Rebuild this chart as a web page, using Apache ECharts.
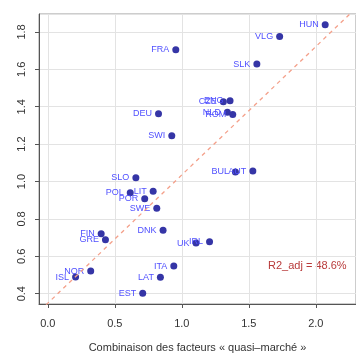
<!DOCTYPE html>
<html><head><meta charset="utf-8">
<script src="https://cdn.jsdelivr.net/npm/echarts@6/dist/echarts.min.js"></script>
<style>html,body{margin:0;padding:0;background:#fff}#c{width:356px;height:364px}</style>
</head><body><div id="c"></div>
<script>
const countries = ['HUN','VLG','FRA','SLK','CZE','ENG','NLD','ROM','DEU','SWI','BUL','AUT','SLO','POL','LIT','POR','SWE','DNK','FIN','GRE','UK','IRL','NOR','ISL','ITA','LAT','EST'];
const xValues = [2.07,1.73,0.955,1.56,1.31,1.36,1.34,1.38,0.826,0.925,1.40,1.53,0.657,0.615,0.786,0.723,0.813,0.860,0.398,0.430,1.106,1.207,0.320,0.207,0.940,0.840,0.708];
const yValues = [1.838,1.776,1.705,1.628,1.427,1.432,1.370,1.359,1.363,1.245,1.051,1.056,1.020,0.940,0.948,0.908,0.857,0.739,0.721,0.689,0.671,0.678,0.521,0.489,0.548,0.488,0.402];
const fitLineX = [-0.1, 2.4];
const fitLineY = [0.281, 1.996];
const r2Text = 'R2_adj = 48.6%';
const xTitle = 'Combinaison des facteurs « quasi–marché »';

const chart = echarts.init(document.getElementById('c'), null, {renderer:'canvas'});
const font = 'Liberation Sans, Arial, sans-serif';
chart.setOption({
  animation:false,
  grid:{left:39, top:14, bottom:60, right:-6, show:true, borderColor:'#9a9a9a', borderWidth:1},
  xAxis:{type:'value', min:-0.066, max:2.3, splitNumber:5,
    name:xTitle, nameLocation:'middle', nameGap:38,
    nameTextStyle:{fontFamily:font, fontSize:11, color:'#333'},
    axisLine:{show:true, onZero:false, lineStyle:{color:'#555', width:1}},
    axisTick:{show:true, length:4, lineStyle:{color:'#555'}},
    axisLabel:{fontFamily:font, fontSize:11, color:'#333', margin:14, showMinLabel:false, showMaxLabel:false,
      formatter:v=>v.toFixed(1)},
    splitLine:{show:true, lineStyle:{color:'#e3e3e3', width:1}}},
  yAxis:{type:'value', min:0.345, max:1.896, splitNumber:8,
    axisLine:{show:true, onZero:false, lineStyle:{color:'#555', width:1}},
    axisTick:{show:true, length:4, lineStyle:{color:'#555'}},
    axisLabel:{fontFamily:font, fontSize:11, color:'#333', rotate:90, margin:12, showMinLabel:false, showMaxLabel:false,
      formatter:v=>v.toFixed(1)},
    splitLine:{show:true, lineStyle:{color:'#e3e3e3', width:1}}},
  series:[
    {type:'line', data:fitLineX.map((x,i)=>[x,fitLineY[i]]), symbol:'none', clip:true, silent:true,
     lineStyle:{color:'#f4a08a', width:1.3, type:[4,4]}},
    {type:'scatter', data:xValues.map((x,i)=>[x,yValues[i],countries[i]]), symbolSize:7,
     itemStyle:{color:'#3535a6', opacity:1},
     label:{show:true, position:'left', distance:3, formatter:p=>p.data[2],
       fontFamily:font, fontSize:9, color:'#5050ff'}}
  ],
  graphic:[{type:'text', left:268, top:260, style:{text:r2Text, fontFamily:font, fontSize:11, fill:'#b83a3a'}}]
});
</script></body></html>
